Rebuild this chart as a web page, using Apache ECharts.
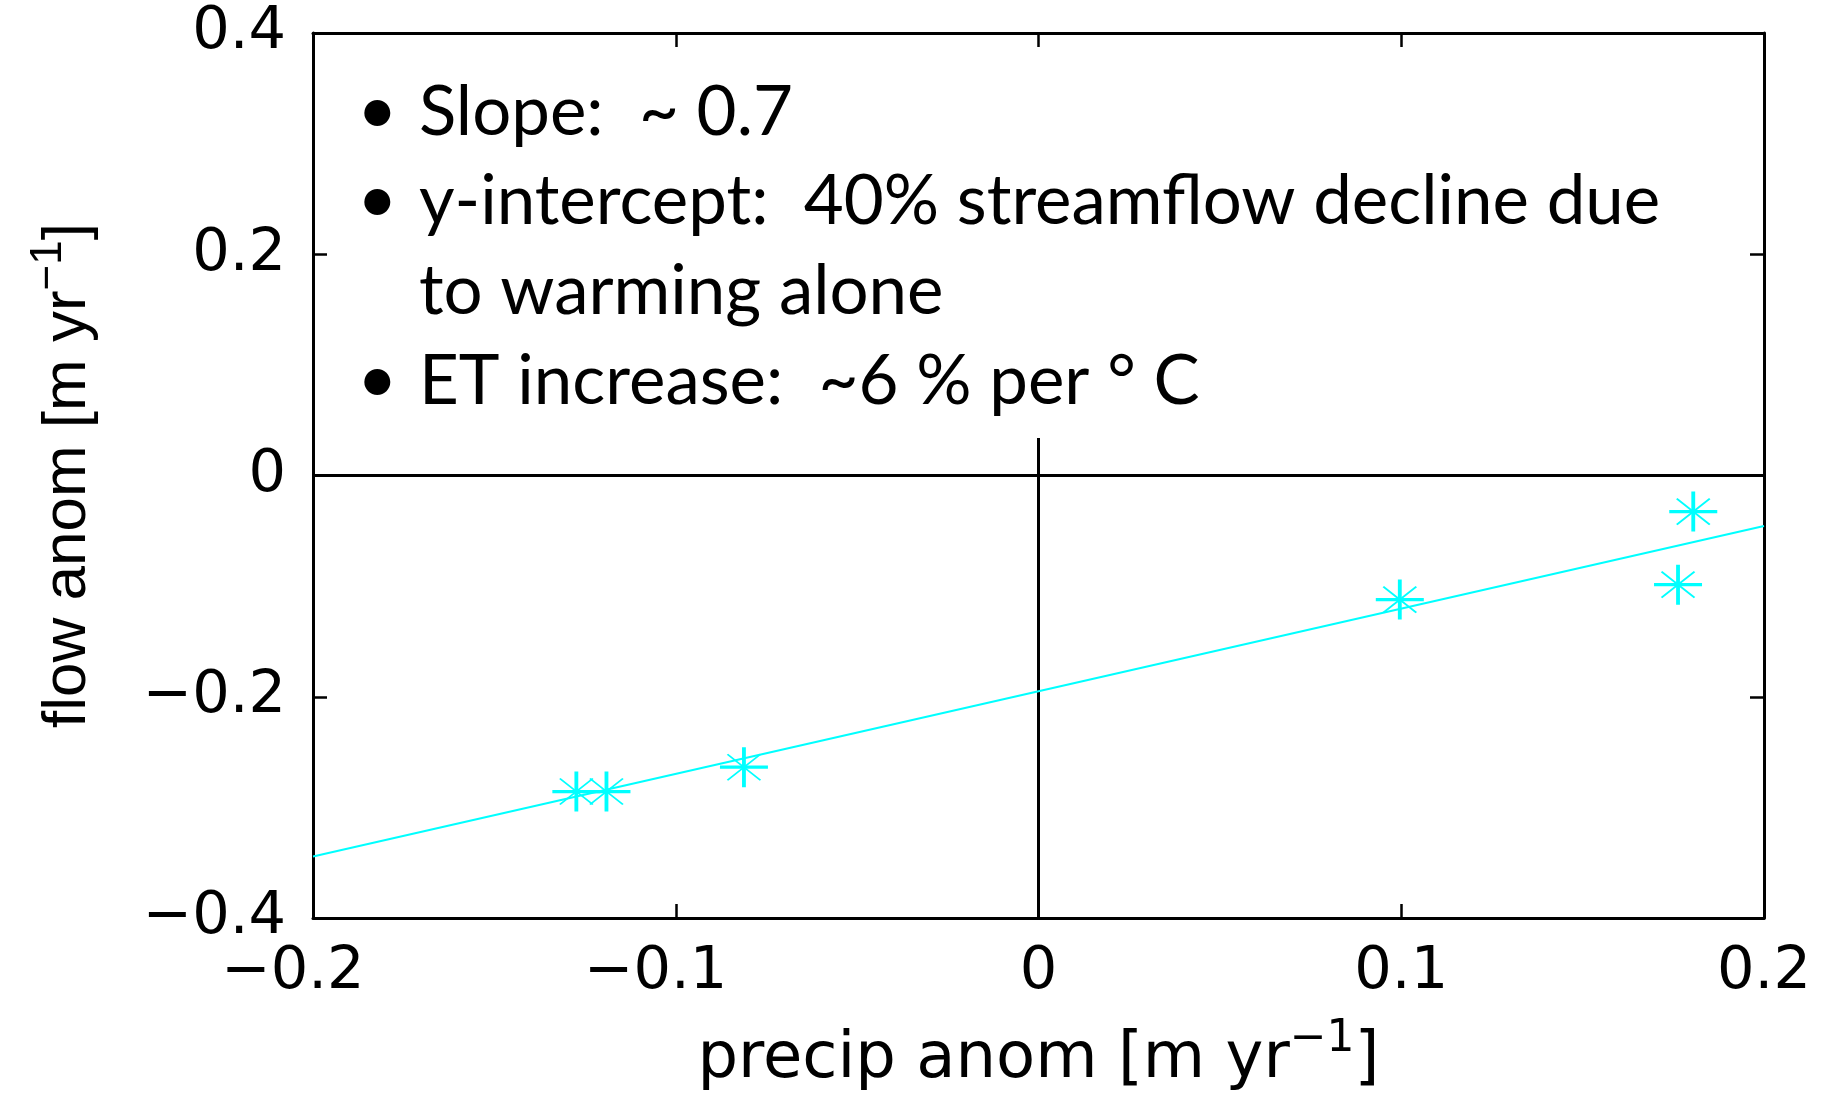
<!DOCTYPE html>
<html>
<head>
<meta charset="utf-8">
<script src="https://cdn.jsdelivr.net/npm/echarts@6/dist/echarts.min.js"></script>
<style>
html,body{margin:0;padding:0;background:#fff;}
#chart{width:1834px;height:1095px;}
</style>
</head>
<body>
<div id="chart"></div>
<script>
// ---- data ----
const precipAnom = [-0.1274, -0.1191, -0.0812, 0.0996, 0.1805, 0.1763];
const flowAnom   = [-0.2857, -0.2857, -0.2637, -0.1122, -0.0326, -0.0987];
// fitted line endpoints
const fitX = [-0.2, 0.2];
const fitY = [-0.3444, -0.0457];
// zero reference lines
const zeroHX = [-0.2, 0.2];
const zeroHY = [0, 0];
const zeroVX = [0, 0];
const zeroVY = [-0.4, 0.034];
// tick values / labels
const xTickValues = [-0.2, -0.1, 0, 0.1, 0.2];
const xTickLabels = ['\u22120.2', '\u22120.1', '0', '0.1', '0.2'];
const yTickValues = [-0.4, -0.2, 0, 0.2, 0.4];
const yTickLabels = ['\u22120.4', '\u22120.2', '0', '0.2', '0.4'];
// annotation text
const bulletLines = [
  {bullet: true,  text: 'Slope:  ~ 0.7'},
  {bullet: true,  text: 'y-intercept:  40% streamflow decline due'},
  {bullet: false, text: 'to warming alone'},
  {bullet: true,  text: 'ET increase:  ~6 % per \u00b0 C'}
];
const xTitle = 'precip anom [m yr';
const yTitle = 'flow anom [m yr';
const supText = '\u22121';

function lookup(vals, labels, v) {
  for (let i = 0; i < vals.length; i++) if (Math.abs(vals[i] - v) < 1e-9) return labels[i];
  return '';
}

const chart = echarts.init(document.getElementById('chart'), null, {renderer: 'canvas'});
const CYAN = '#00FFFF';
const tickFont = 'DejaVu Sans';

const textTop = [113, 202, 292, 382];
const graphics = [];
bulletLines.forEach((ln, i) => {
  if (ln.bullet) {
    graphics.push({type: 'text', x: 357, y: textTop[i] - 2, style: {text: '\u2022', fontFamily: 'Lato', fontSize: 70, fill: '#000', textAlign: 'left', textVerticalAlign: 'middle', align: 'left', verticalAlign: 'middle'}});
  }
  graphics.push({type: 'text', x: 419, y: textTop[i], style: {text: ln.text, fontFamily: 'Lato', fontSize: 69, fill: '#000', textAlign: 'left', textVerticalAlign: 'middle', align: 'left', verticalAlign: 'middle'}});
});

const axisLineStyle = {color: '#000', width: 3};
const option = {
  backgroundColor: '#fff',
  animation: false,
  grid: {left: 313, right: 70, top: 33, bottom: 177, show: false, containLabel: false, outerBoundsMode: 'none'},
  xAxis: [{
    type: 'value', min: -0.2, max: 0.2, interval: 0.1, position: 'bottom',
    axisLine: {show: true, onZero: false, lineStyle: axisLineStyle},
    axisTick: {show: true, inside: true, length: 14, lineStyle: {color: '#000', width: 2.5}},
    splitLine: {show: false},
    axisLabel: {
      margin: 25, fontFamily: tickFont, fontSize: 59, color: '#000',
      formatter: v => { const s = lookup(xTickValues, xTickLabels, v); return v < 0 ? '{neg|' + s + '}' : s; },
      rich: {neg: {fontFamily: tickFont, fontSize: 59, color: '#000', padding: [0, 40, 0, 0]}}
    },
    name: '{t|' + xTitle + '}{s|' + supText + '}{t|]}',
    nameLocation: 'middle', nameGap: 100,
    nameTextStyle: {
      rich: {
        t: {fontFamily: 'DejaVu Sans', fontSize: 64, color: '#000'},
        s: {fontFamily: 'DejaVu Sans', fontSize: 44, color: '#000', padding: [0, 0, 40, 0]}
      }
    }
  }, {
    type: 'value', min: -0.2, max: 0.2, interval: 0.1, position: 'top',
    axisLine: {show: true, onZero: false, lineStyle: axisLineStyle},
    axisTick: {show: true, inside: true, length: 14, lineStyle: {color: '#000', width: 2.5}},
    splitLine: {show: false}, axisLabel: {show: false}
  }],
  yAxis: [{
    type: 'value', min: -0.4, max: 0.4, interval: 0.2, position: 'left',
    axisLine: {show: true, onZero: false, lineStyle: axisLineStyle},
    axisTick: {show: true, inside: true, length: 14, lineStyle: {color: '#000', width: 2.5}},
    splitLine: {show: false},
    axisLabel: {
      margin: 27, fontFamily: tickFont, fontSize: 59, color: '#000',
      formatter: v => lookup(yTickValues, yTickLabels, v)
    },
    name: '{t|' + yTitle + '}{s|' + supText + '}{t|]}',
    nameLocation: 'middle', nameGap: 204, nameRotate: 90,
    nameTextStyle: {
      rich: {
        t: {fontFamily: 'Liberation Sans', fontSize: 62, color: '#000'},
        s: {fontFamily: 'Liberation Sans', fontSize: 44, color: '#000', padding: [0, 0, 38, 0]}
      }
    }
  }, {
    type: 'value', min: -0.4, max: 0.4, interval: 0.2, position: 'right',
    axisLine: {show: true, onZero: false, lineStyle: axisLineStyle},
    axisTick: {show: true, inside: true, length: 14, lineStyle: {color: '#000', width: 2.5}},
    splitLine: {show: false}, axisLabel: {show: false}
  }],
  series: [
    {
      type: 'line', silent: true, symbol: 'none', z: 1,
      data: zeroHX.map((x, i) => [x, zeroHY[i]]),
      lineStyle: {color: '#000', width: 3}
    },
    {
      type: 'line', silent: true, symbol: 'none', z: 1,
      data: zeroVX.map((x, i) => [x, zeroVY[i]]),
      lineStyle: {color: '#000', width: 3}
    },
    {
      type: 'line', silent: true, symbol: 'none', z: 2,
      data: fitX.map((x, i) => [x, fitY[i]]),
      lineStyle: {color: CYAN, width: 2}
    },
    {
      type: 'scatter', silent: true, z: 3,
      data: precipAnom.map((x, i) => [x, flowAnom[i]]),
      symbol: 'path://M0,20L48,20M24,0L24,40',
      symbolSize: [48, 40],
      itemStyle: {color: 'rgba(0,0,0,0)', borderColor: CYAN, borderWidth: 3.5, opacity: 1}
    },
    {
      type: 'scatter', silent: true, z: 3,
      data: precipAnom.map((x, i) => [x, flowAnom[i]]),
      symbol: 'path://M0,0L33,26M33,0L0,26',
      symbolSize: [33, 26],
      itemStyle: {color: 'rgba(0,0,0,0)', borderColor: CYAN, borderWidth: 1.8, opacity: 1}
    }
  ],
  graphic: graphics
};
chart.setOption(option);
</script>
</body>
</html>
